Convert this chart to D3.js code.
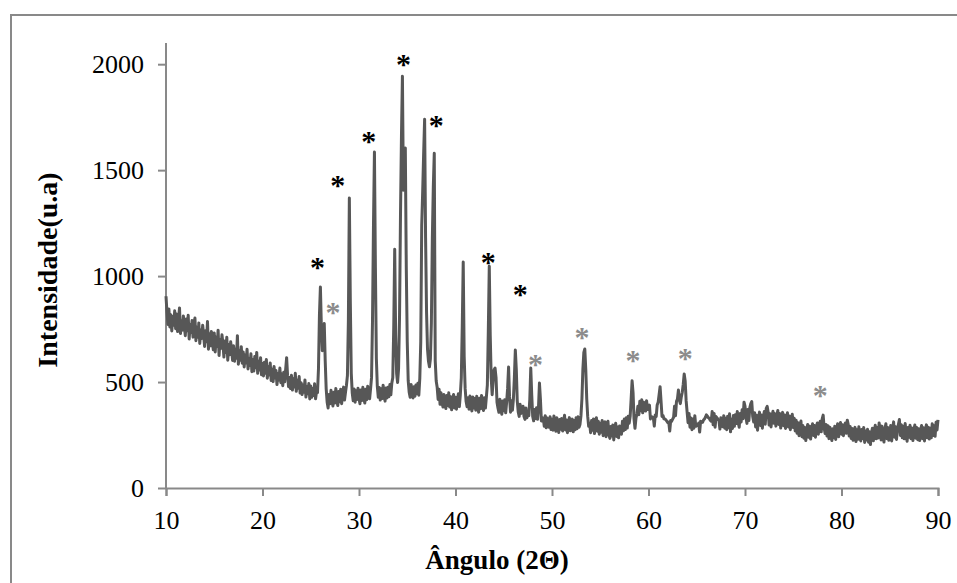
<!DOCTYPE html>
<html>
<head>
<meta charset="utf-8">
<script src="https://cdn.jsdelivr.net/npm/d3@7"></script>
<style>
  body { margin: 0; background: #fff; }
  svg { display: block; }
  text { font-family: "Liberation Serif", "Times New Roman", serif; }
</style>
</head>
<body>
<div id="chart"></div>
<script>
// XRD scan, 10.0 to 90.0 deg, one reading every 0.1 deg
let angle_start = 10;
let angle_step = 0.1;
let intensity = [
    905, 830, 772, 845, 760, 818, 741, 809, 768, 836,
    752, 821, 738, 796, 850, 729, 788, 745, 812, 761,
    719, 798, 742, 815, 703, 771, 734, 790, 712, 776,
    802, 695, 758, 711, 779, 682, 745, 706, 768, 721,
    668, 742, 690, 786, 655, 728, 671, 739, 694, 652,
    731, 642, 712, 668, 745, 625, 701, 659, 723, 681,
    618, 694, 640, 711, 603, 676, 629, 690, 652, 602,
    671, 598, 655, 612, 719, 584, 648, 603, 667, 589,
    642, 571, 628, 590, 655, 562, 611, 578, 633, 549,
    606, 552, 621, 568, 640, 541, 598, 557, 615, 534,
    588, 529, 594, 541, 606, 518, 572, 533, 590, 507,
    561, 502, 573, 519, 554, 488, 540, 509, 566, 497,
    538, 483, 546, 501, 560, 615, 530, 478, 521, 469,
    532, 462, 515, 477, 541, 456, 508, 471, 526, 448,
    497, 441, 486, 452, 510, 429, 478, 445, 493, 420,
    481, 428, 469, 436, 492, 421, 455, 450, 562, 815,
    948, 762, 648, 718, 776, 598, 468, 405, 378, 441,
    398, 461, 412, 387, 452, 401, 470, 415, 389, 455,
    407, 466, 398, 441, 476, 415, 452, 485, 530, 790,
    1368, 880, 540, 448, 412, 467, 405, 459, 418, 471,
    422, 398, 462, 413, 475, 426, 401, 466, 417, 480,
    437, 421, 469, 522, 790, 1240, 1586, 1040, 610, 478,
    428, 474, 415, 468, 422, 485, 437, 410, 472, 425,
    476, 431, 488, 440, 495, 520, 760, 1127, 720, 540,
    498, 562, 810, 1290, 1660, 1943, 1405, 1510, 1604, 1040,
    690, 505, 452, 428, 489, 441, 425, 478, 433, 486,
    445, 494, 438, 517, 690, 1240, 1400, 1580, 1740, 1180,
    830, 655, 598, 572, 610, 780, 1180, 1420, 1580, 600,
    505, 475, 418, 466, 395, 449, 405, 382, 441, 398,
    375, 436, 389, 449, 382, 431, 369, 423, 441, 378,
    428, 372, 419, 445, 384, 440, 520, 760, 1066, 620,
    470, 408, 384, 426, 372, 434, 389, 364, 429, 378,
    422, 367, 433, 382, 358, 424, 374, 437, 385, 366,
    426, 377, 430, 485, 740, 1047, 720, 520, 440, 505,
    558, 566, 522, 405, 378, 357, 419, 369, 348, 411,
    364, 416, 355, 405, 470, 571, 430, 358, 412, 367,
    420, 520, 651, 560, 410, 359, 338, 395, 352, 362,
    386, 337, 324, 378, 331, 344, 342, 420, 566, 440,
    338, 317, 370, 328, 379, 324, 380, 495, 420, 316,
    332, 328, 291, 341, 284, 330, 320, 287, 336, 276,
    325, 273, 340, 290, 268, 332, 283, 262, 323, 277,
    328, 269, 316, 343, 274, 321, 261, 313, 332, 270,
    310, 325, 265, 319, 275, 332, 280, 336, 287, 300,
    340, 420, 560, 640, 656, 560, 420, 338, 291, 306,
    261, 318, 272, 326, 257, 311, 332, 268, 315, 254,
    306, 263, 319, 247, 298, 312, 242, 293, 315, 251,
    234, 290, 245, 297, 227, 282, 306, 243, 288, 237,
    293, 282, 254, 315, 270, 326, 276, 332, 283, 339,
    306, 338, 420, 506, 450, 326, 282, 329, 349, 386,
    346, 409, 364, 416, 355, 405, 394, 363, 412, 370,
    370, 391, 326, 336, 335, 332, 292, 345, 338, 392,
    405, 440, 478, 410, 338, 342, 327, 326, 322, 315,
    308, 311, 269, 319, 315, 325, 334, 386, 341, 409,
    420, 462, 415, 398, 430, 452, 490, 538, 505, 412,
    359, 308, 352, 287, 330, 275, 326, 282, 341, 291,
    298, 295, 306, 264, 315, 309, 310, 321, 326, 334,
    345, 339, 332, 328, 320, 315, 361, 298, 352, 287,
    337, 331, 323, 320, 278, 332, 327, 289, 341, 282,
    329, 275, 338, 284, 350, 265, 325, 281, 342, 291,
    346, 304, 361, 308, 287, 352, 312, 369, 327, 405,
    386, 334, 305, 370, 318, 379, 398, 408, 338, 312,
    355, 288, 343, 273, 332, 358, 295, 345, 282, 336,
    361, 301, 376, 385, 357, 297, 350, 288, 339, 362,
    305, 351, 292, 343, 366, 300, 352, 283, 335, 357,
    294, 344, 281, 332, 355, 288, 340, 275, 326, 348,
    285, 329, 269, 320, 258, 308, 247, 297, 316, 242,
    295, 235, 286, 224, 278, 300, 239, 291, 231, 282,
    303, 248, 295, 240, 290, 307, 254, 299, 315, 265,
    326, 344, 284, 257, 300, 245, 294, 233, 287, 248,
    224, 279, 237, 291, 229, 276, 303, 242, 285, 309,
    254, 298, 247, 293, 307, 258, 320, 299, 245, 290,
    234, 281, 225, 270, 286, 219, 275, 230, 289, 238,
    222, 276, 234, 285, 215, 269, 227, 277, 216, 265,
    205, 258, 282, 223, 273, 296, 232, 285, 236, 307,
    276, 227, 292, 240, 217, 280, 303, 233, 286, 225,
    244, 295, 222, 283, 312, 240, 289, 229, 280, 301,
    323, 248, 298, 237, 291, 232, 304, 249, 221, 285,
    240, 296, 233, 283, 224, 275, 297, 235, 285, 228,
    280, 224, 273, 295, 233, 284, 222, 276, 298, 237,
    287, 231, 282, 237, 303, 248, 294, 244, 310, 274,
    321
];

let x_ticks = [10, 20, 30, 40, 50, 60, 70, 80, 90];
let y_ticks = [0, 500, 1000, 1500, 2000];

// peak markers: angle and height where each asterisk sits
let black_star_angle = [25.7, 27.8, 31.0, 34.6, 38.0, 43.4, 46.7];
let black_star_level = [1063, 1453, 1660, 2022, 1733, 1088, 937];
let gray_star_angle = [27.3, 48.3, 53.1, 58.4, 63.8, 77.8];
let gray_star_level = [852, 604, 733, 624, 635, 458];

let width = 957, height = 583;
let margin = {top: 43, right: 19, bottom: 95, left: 166};

let svg = d3.select("#chart")
    .append("svg")
    .attr("width", width)
    .attr("height", height);

svg.append("rect")
    .attr("x", 11)
    .attr("y", 15)
    .attr("width", width + 10)
    .attr("height", height + 10)
    .attr("fill", "#fff")
    .attr("stroke", "#898989")
    .attr("stroke-width", 2);

let x = d3.scaleLinear()
    .domain([10, 90])
    .range([margin.left, width - margin.right]);

let y = d3.scaleLinear()
    .domain([0, 2100])
    .range([height - margin.bottom, margin.top]);

let data = intensity.map((v, i) => ({angle: angle_start + i * angle_step, value: v}));

let x_axis = svg.append("g")
    .attr("transform", `translate(0, ${y(0)})`)
    .call(d3.axisBottom(x).tickValues(x_ticks).tickSizeOuter(0).tickSize(8).tickPadding(15));

let y_axis = svg.append("g")
    .attr("transform", `translate(${x(10)}, 0)`)
    .call(d3.axisLeft(y).tickValues(y_ticks).tickFormat(d3.format("d")).tickSizeOuter(0).tickSize(8).tickPadding(14));

[x_axis, y_axis].forEach(a => {
    a.select(".domain").attr("stroke", "#898989").attr("stroke-width", 2);
    a.selectAll(".tick line").attr("stroke", "#898989").attr("stroke-width", 2);
    a.selectAll(".tick text")
        .attr("fill", "#000")
        .style("font-family", "'Liberation Serif', 'Times New Roman', serif")
        .style("font-size", "26px");
});

// y axis line runs up to the top of the plot area
y_axis.select(".domain").attr("d", `M0,${y(0)}V${y(2100)}`);

svg.append("path")
    .datum(data)
    .attr("fill", "none")
    .attr("stroke", "#575757")
    .attr("stroke-width", 3)
    .attr("stroke-linejoin", "round")
    .attr("d", d3.line().x(d => x(d.angle)).y(d => y(d.value)));

svg.selectAll(".star-black")
    .data(black_star_angle)
    .enter()
    .append("text")
    .attr("class", "star-black")
    .attr("x", d => x(d))
    .attr("y", (d, i) => y(black_star_level[i]))
    .attr("dy", "0.48em")
    .attr("text-anchor", "middle")
    .style("font-size", "30px")
    .style("font-weight", "bold")
    .attr("fill", "#000")
    .text("*");

svg.selectAll(".star-gray")
    .data(gray_star_angle)
    .enter()
    .append("text")
    .attr("class", "star-gray")
    .attr("x", d => x(d))
    .attr("y", (d, i) => y(gray_star_level[i]))
    .attr("dy", "0.48em")
    .attr("text-anchor", "middle")
    .style("font-size", "30px")
    .style("font-weight", "bold")
    .attr("fill", "#8c8c8c")
    .text("*");

svg.append("text")
    .attr("x", 497)
    .attr("y", 569)
    .attr("text-anchor", "middle")
    .style("font-size", "27px")
    .style("font-weight", "bold")
    .text("Ângulo (2Θ)");

svg.append("text")
    .attr("transform", `translate(57, 270) rotate(-90)`)
    .attr("text-anchor", "middle")
    .style("font-size", "28px")
    .style("font-weight", "bold")
    .text("Intensidade(u.a)");
</script>
</body>
</html>
